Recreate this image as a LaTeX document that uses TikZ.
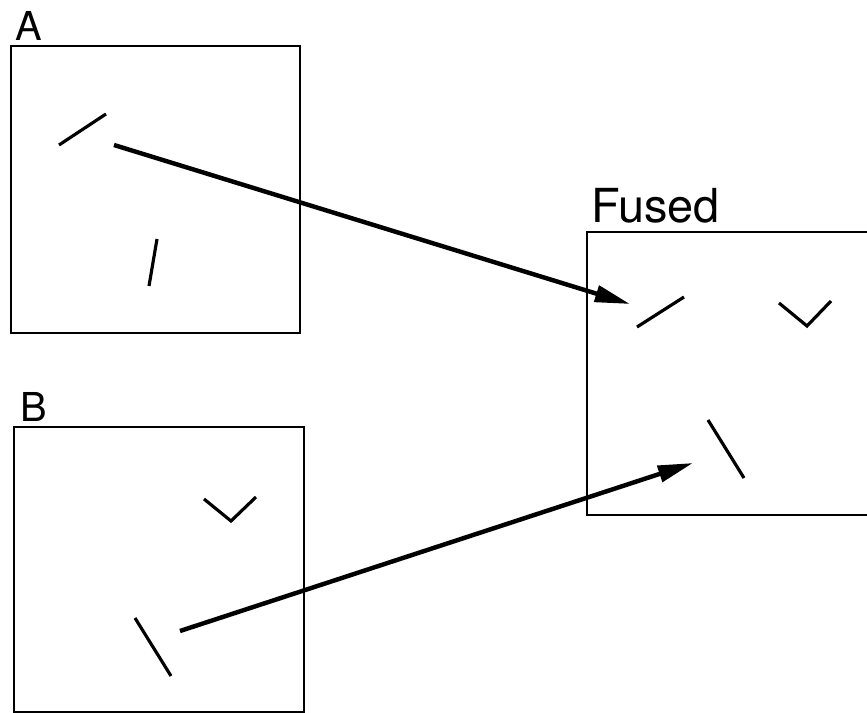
\documentclass[tikz,border=0pt]{standalone}
\usepackage{fontspec}
\setmainfont{TeX Gyre Heros}
\usetikzlibrary{arrows.meta,positioning}

\begin{document}
\begin{tikzpicture}[x=0.03cm, y=-0.03cm,
	frame/.style={shape=rectangle, draw=black, line width=1.9pt},
	lbl/.style={inner sep=0pt, font=\fontsize{34}{40}\selectfont},
	seg/.style={line width=2.7pt},
	link/.style={-{Triangle[length=30pt,width=14pt]}, line width=3.8pt}]

	\clip (0, 0) rectangle (867, 713);

	\node[frame, minimum width=8.67cm, minimum height=8.61cm] (boxA) at (155.5, 189.5) {};
	\node[frame, minimum width=8.70cm, minimum height=8.55cm] (boxB) at (159, 569.5)   {};
	\node[frame, minimum width=9.40cm, minimum height=8.49cm] (boxF) at (744, 373.5)   {};

	\node[lbl, above right=3.4pt and 5pt of boxA.north west] (labA) {A};
	\node[lbl, above right=3.4pt and 6pt of boxB.north west] (labB) {B};
	\node[lbl, above right=6pt and 4pt of boxF.north west, font=\fontsize{40}{46}\selectfont] (labF) {Fused};

	\draw[seg] (59, 145)  -- (106, 114);
	\draw[seg] (149, 286) -- (157, 239);
	\draw[seg] (204, 499) -- (231, 521) -- (256, 497);
	\draw[seg] (135, 618) -- (171, 676);
	\draw[seg] (637, 327) -- (684, 297);
	\draw[seg] (779, 303) -- (807, 326) -- (831, 301);
	\draw[seg] (708, 420) -- (744, 478);

	\coordinate (srcA) at (114, 145);
	\coordinate (dstA) at (630, 304);
	\coordinate (srcB) at (180, 631);
	\coordinate (dstB) at (693, 463);

	\path[link] (srcA) edge (dstA);
	\path[link] (srcB) edge (dstB);

\end{tikzpicture}
\end{document}
